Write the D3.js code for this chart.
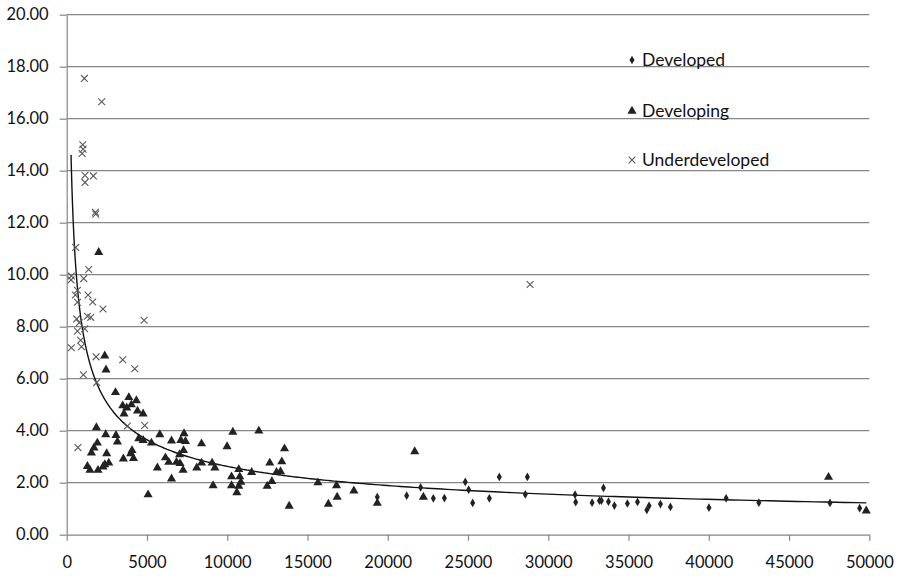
<!DOCTYPE html>
<html>
<head>
<meta charset="utf-8">
<script src="https://cdn.jsdelivr.net/npm/d3@7"></script>
<style>
  html, body { margin: 0; padding: 0; background: #fff; }
  svg { display: block; }
  text { font-family: Lato, "Open Sans", sans-serif; fill: #111; }
</style>
</head>
<body>
<svg id="chart" width="900" height="576"></svg>
<script>
// ---- data ----
const seriesNames = ["Developed", "Developing", "Underdeveloped"];

const developed = [
  [19350,1.45],[21180,1.50],[22050,1.82],[22840,1.40],[23530,1.41],[24830,2.03],
  [25040,1.73],[25290,1.22],[26330,1.40],[26950,2.22],[28700,2.22],[28570,1.55],
  [31670,1.54],[31710,1.25],[32730,1.23],[33190,1.31],[33310,1.31],[33440,1.80],
  [33750,1.27],[34120,1.12],[34930,1.20],[35560,1.26],[36140,0.95],[36280,1.11],
  [36990,1.18],[37610,1.07],[40010,1.04],[41080,1.40],[43120,1.23],[47550,1.22],
  [49400,1.02]
];

const developing = [
  [1995,10.86],[2370,6.88],[2450,6.34],[3040,5.47],[3870,5.28],[4340,5.16],[4030,5.00],
  [3490,4.96],[3740,4.88],[3570,4.65],[4410,4.76],[4760,4.65],[1850,4.12],[2430,3.85],
  [3070,3.82],[3160,3.57],[1910,3.53],[1700,3.34],[1540,3.15],[2490,3.12],[4070,3.24],
  [3990,3.12],[4160,2.94],[3530,2.92],[2620,2.76],[2370,2.70],[1290,2.63],[1450,2.48],
  [1950,2.48],[2260,2.61],[4490,3.70],[4760,3.63],[5280,3.53],[5800,3.85],[6530,3.61],
  [7110,3.63],[7310,3.89],[7400,3.59],[7280,3.24],[8400,3.50],[10350,3.95],[9990,3.39],
  [7030,3.08],[6150,2.96],[6360,2.79],[6840,2.79],[7060,2.74],[7250,2.48],[5650,2.57],
  [6530,2.15],[5070,1.54],[8100,2.57],[8400,2.76],[9120,1.89],[9060,2.76],[9230,2.57],
  [10270,2.23],[10270,1.89],[10720,2.51],[10780,2.23],[10600,1.62],[10720,1.87],
  [10850,2.02],[11520,2.40],[11970,3.99],[13570,3.31],[12650,2.76],[13400,2.81],
  [13070,2.40],[13320,2.43],[12780,2.05],[12490,1.87],[13860,1.10],[15650,2.00],
  [16810,1.89],[16300,1.18],[16850,1.45],[17890,1.69],[19350,1.21],[21680,3.20],
  [22220,1.45],[47460,2.21],[49810,0.92]
];

const underdeveloped = [
  [1100,17.55],[2180,16.65],[1000,15.00],[1020,14.83],[960,14.66],[1140,13.82],
  [1660,13.80],[1140,13.55],[1790,12.40],[1810,12.33],[560,11.05],[1370,10.20],
  [290,9.95],[270,9.80],[1060,9.85],[670,9.40],[540,9.22],[1330,9.22],[1620,8.95],
  [670,8.94],[2260,8.68],[1290,8.40],[1500,8.36],[620,8.30],[4820,8.25],[790,8.15],
  [1120,7.92],[670,7.83],[870,7.48],[290,7.19],[920,7.23],[1830,6.84],[3490,6.73],
  [4240,6.38],[1040,6.15],[1870,5.85],[3780,4.18],[4860,4.20],[700,3.35],[28870,9.62]
];

// power trendline coefficients (y = a * x^b), as displayed
const trendA = 208.7;
const trendB = -0.475;

const xTicks = [0,5000,10000,15000,20000,25000,30000,35000,40000,45000,50000];
const yTicks = [0,2,4,6,8,10,12,14,16,18,20];

// ---- layout ----
const svg = d3.select("#chart");
const x = d3.scaleLinear().domain([0, 50000]).range([66.7, 869.3]);
const y = d3.scaleLinear().domain([0, 20]).range([534.7, 14.7]);
const gridColor = "#868686";

// gridlines
svg.append("g").selectAll("line").data(yTicks.filter(d => d > 0)).join("line")
  .attr("x1", x(0)).attr("x2", x(50000))
  .attr("y1", d => y(d)).attr("y2", d => y(d))
  .attr("stroke", gridColor).attr("stroke-width", 1.2);

// y axis
const yAxis = d3.axisLeft(y).tickValues(yTicks).tickFormat(d3.format(".2f"))
  .tickSizeInner(7).tickSizeOuter(0).tickPadding(11);
const gy = svg.append("g").attr("transform", `translate(${x(0)},0)`).call(yAxis);
gy.selectAll("path, line").attr("stroke", gridColor).attr("stroke-width", 1.2);
gy.selectAll("text").style("font-size", "16.5px").attr("fill", "#111")
  .style("font-family", "Lato, 'Open Sans', sans-serif");

// x axis
const xAxis = d3.axisBottom(x).tickValues(xTicks).tickFormat(d3.format("d"))
  .tickSizeInner(6).tickSizeOuter(0).tickPadding(16);
const gx = svg.append("g").attr("transform", `translate(0,${y(0)})`).call(xAxis);
gx.selectAll("path, line").attr("stroke", gridColor).attr("stroke-width", 1.2);
gx.selectAll("text").style("font-size", "16.5px").attr("fill", "#111")
  .style("font-family", "Lato, 'Open Sans', sans-serif");

// marker shapes
const diamond = d3.symbol().type(d3.symbolDiamond).size(22);
const triangle = d3.symbol().type(d3.symbolTriangle).size(36);
function drawX(g, cx, cy, r) {
  g.append("path")
    .attr("d", `M${cx-r},${cy-r}L${cx+r},${cy+r}M${cx-r},${cy+r}L${cx+r},${cy-r}`)
    .attr("stroke", "#5a5a5a").attr("stroke-width", 1.1).attr("fill", "none");
}

// trendline (all data)
const allX = developed.concat(developing, underdeveloped).map(d => d[0]);
const xmin = d3.min(allX), xmax = d3.max(allX);
const trendPts = d3.range(0, 401).map(i => {
  const t = i / 400;
  const xv = Math.exp(Math.log(xmin) + t * (Math.log(xmax) - Math.log(xmin)));
  return [xv, trendA * Math.pow(xv, trendB)];
});
svg.append("path").datum(trendPts)
  .attr("d", d3.line().x(d => x(d[0])).y(d => y(d[1])).curve(d3.curveLinear))
  .attr("fill", "none").attr("stroke", "#111").attr("stroke-width", 1.4);

// points
const gPts = svg.append("g");
gPts.selectAll(".dev").data(developed).join("path").attr("class", "dev")
  .attr("d", diamond).attr("transform", d => `translate(${x(d[0])},${y(d[1])})`)
  .attr("fill", "#222");
gPts.selectAll(".dvg").data(developing).join("path").attr("class", "dvg")
  .attr("d", triangle).attr("transform", d => `translate(${x(d[0])},${y(d[1])})`)
  .attr("fill", "#222");
const gX = svg.append("g");
underdeveloped.forEach(d => drawX(gX, x(d[0]), y(d[1]), 3.4));

// legend
const legendY = [60, 111, 160];
const lg = svg.append("g");
lg.append("path").attr("d", diamond).attr("transform", `translate(632,${legendY[0]})`).attr("fill", "#222");
lg.append("path").attr("d", triangle).attr("transform", `translate(632,${legendY[1]})`).attr("fill", "#222");
drawX(lg, 632, legendY[2], 3.3);
lg.selectAll("text").data(seriesNames).join("text")
  .attr("x", 642).attr("y", (d, i) => legendY[i] + 6)
  .style("font-size", "17.5px").text(d => d);
</script>
</body>
</html>
